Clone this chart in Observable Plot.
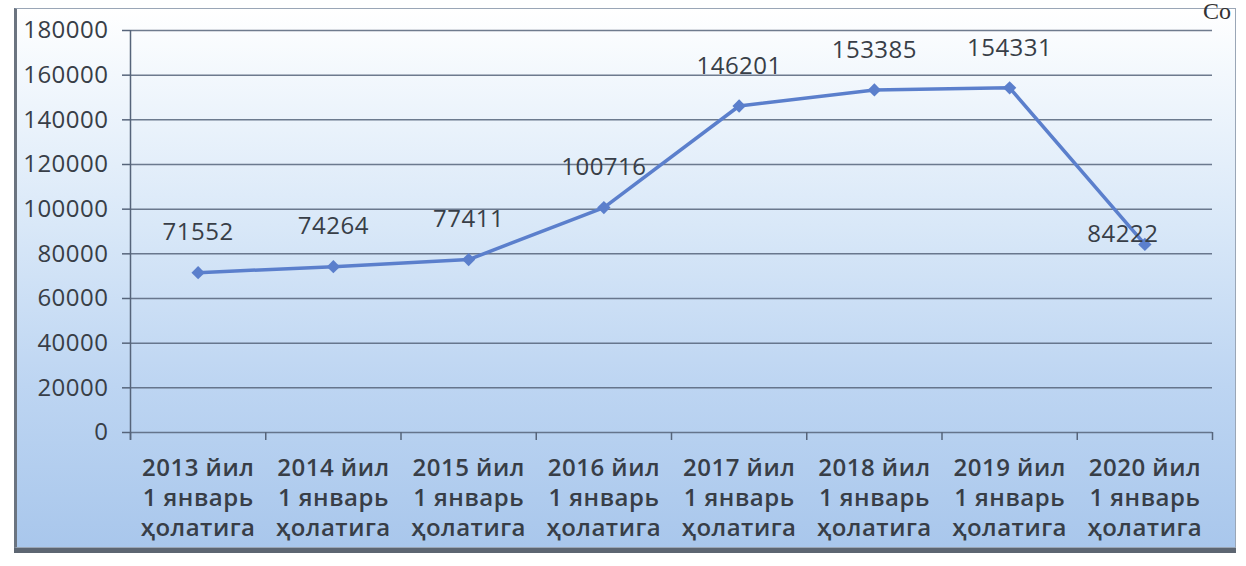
<!DOCTYPE html>
<html>
<head>
<meta charset="utf-8">
<script src="https://cdn.jsdelivr.net/npm/d3@7"></script>
<script src="https://cdn.jsdelivr.net/npm/@observablehq/plot@0.6"></script>
<style>
  html, body { margin: 0; padding: 0; width: 1246px; height: 566px; overflow: hidden; background: #ffffff; }
  #wrap { position: relative; width: 1246px; height: 566px; }
  #frame {
    position: absolute; left: 14px; top: 8px; width: 1218px; height: 538px;
    background: linear-gradient(to bottom, #ffffff 0%, #f3f8fd 12%, #d9e8f8 40%, #bdd5f2 70%, #a9c7ec 100%);
    border: 1px solid #9aa6b6;
    border-left: 3px solid #6b7480;
    box-shadow: 0 5px 0 #5d6672;
  }
  #co { position: absolute; left: 1203px; top: -2px; font-family: "Liberation Serif", serif; font-size: 24px; color: #333; }
  #chart { position: absolute; left: 0; top: 0; }
</style>
</head>
<body>
<div id="wrap">
  <div id="frame"></div>
  <div id="co">Co</div>
  <div id="chart"></div>
</div>
<script>
const categories = [
  "2013 йил\n1 январь\nҳолатига",
  "2014 йил\n1 январь\nҳолатига",
  "2015 йил\n1 январь\nҳолатига",
  "2016 йил\n1 январь\nҳолатига",
  "2017 йил\n1 январь\nҳолатига",
  "2018 йил\n1 январь\nҳолатига",
  "2019 йил\n1 январь\nҳолатига",
  "2020 йил\n1 январь\nҳолатига"
];
const values = [71552, 74264, 77411, 100716, 146201, 153385, 154331, 84222];
const yTicks = [0, 20000, 40000, 60000, 80000, 100000, 120000, 140000, 160000, 180000];

const data = values.map((v, i) => ({i, pos: i + 0.5, value: v, label: categories[i]}));
const bounds = d3.range(categories.length + 1);
const centers = data.map(d => d.pos);

const lineColor = "#5b7fcc";
const textColor = "#383e47";

const chart = Plot.plot({
  width: 1246,
  height: 566,
  marginLeft: 130,
  marginRight: 34,
  marginTop: 30,
  marginBottom: 134,
  style: {background: "transparent", fontFamily: "'Open Sans', sans-serif", color: textColor, overflow: "visible"},
  x: {type: "linear", domain: [0, categories.length], axis: null, label: null},
  y: {domain: [0, 180000], axis: null, label: null},
  marks: [
    Plot.gridY(yTicks, {stroke: "#56647a", strokeOpacity: 0.85, strokeWidth: 1.5}),
    Plot.ruleX([0], {y1: -3500, y2: 180000, stroke: "#56647a", strokeWidth: 1.5}),
    Plot.axisY({ticks: yTicks, label: null, tickSize: 8, tickPadding: 14, stroke: "#56647a", strokeWidth: 1.5, tickFormat: d => String(d), fontSize: 24, fill: textColor}),
    Plot.axisX({ticks: bounds, label: null, tickSize: 8, tickFormat: () => "", stroke: "#56647a", strokeWidth: 1.5}),
    Plot.axisX({ticks: centers, label: null, tickSize: 0, tickPadding: 22, tickFormat: d => categories[Math.floor(d)], fontSize: 24, fontWeight: 600, lineHeight: 1.25, fill: textColor}),
    Plot.line(data, {x: "pos", y: "value", stroke: lineColor, strokeWidth: 3.5}),
    Plot.dot(data, {x: "pos", y: "value", symbol: "diamond2", r: 6, fill: lineColor}),
    Plot.text(data.filter(d => d.i < values.length - 1), {x: "pos", y: "value", text: d => String(d.value), dy: -40, fontSize: 24, fill: textColor}),
    Plot.text(data.filter(d => d.i === values.length - 1), {x: "pos", y: "value", text: d => String(d.value), dx: -22, dy: -10, fontSize: 24, fill: textColor})
  ]
});
chart.querySelectorAll("text").forEach(t => t.style.letterSpacing = "0.5px");
document.getElementById("chart").appendChild(chart);
</script>
</body>
</html>
